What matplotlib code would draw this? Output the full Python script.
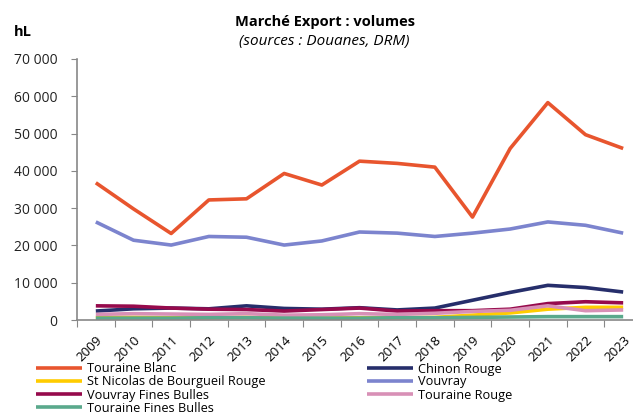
import matplotlib.pyplot as plt
from matplotlib.ticker import FuncFormatter, FixedLocator

plt.rcParams['font.family'] = ['Open Sans', 'DejaVu Sans']

years = [str(y) for y in range(2009, 2024)]

touraine_blanc = [36800, 29800, 23200, 32200, 32500, 39300, 36200, 42600, 42000, 41000, 27600, 46000, 58300, 49700, 46000]
chinon_rouge = [2400, 3000, 3200, 3000, 3800, 3100, 2900, 3300, 2700, 3200, 5300, 7400, 9300, 8700, 7500]
st_nicolas = [700, 700, 600, 600, 700, 500, 500, 600, 600, 700, 1300, 1900, 2900, 3400, 3400]
vouvray = [26300, 21400, 20100, 22400, 22200, 20100, 21200, 23600, 23300, 22400, 23300, 24400, 26300, 25400, 23300]
vouvray_fb = [3800, 3700, 3200, 2900, 2800, 2400, 2800, 3200, 2400, 2500, 2500, 2900, 4400, 4900, 4600]
touraine_rouge = [1500, 1700, 1600, 1500, 1700, 1300, 1400, 1700, 1500, 1800, 2300, 2600, 3800, 2500, 2700]
touraine_fb = [500, 500, 500, 600, 600, 500, 500, 500, 600, 600, 700, 800, 900, 900, 900]

series = [
    ("Touraine Blanc", touraine_blanc, "#E8552E"),
    ("Chinon Rouge", chinon_rouge, "#262E6B"),
    ("St Nicolas de Bourgueil Rouge", st_nicolas, "#FFCC00"),
    ("Vouvray", vouvray, "#7C84CE"),
    ("Vouvray Fines Bulles", vouvray_fb, "#960A4C"),
    ("Touraine Rouge", touraine_rouge, "#D890B6"),
    ("Touraine Fines Bulles", touraine_fb, "#5AA98C"),
]

fig = plt.figure(figsize=(6.33, 4.16), dpi=100)
ax = fig.add_axes([77 / 633, 1 - 320 / 416, 565 / 633, (320 - 59) / 416])

x = list(range(len(years)))
handles = {}
for name, vals, col in series:
    h, = ax.plot(x, vals, color=col, lw=2.6, solid_capstyle='butt', label=name)
    handles[name] = h

ax.set_xlim(-0.5, len(years) - 0.5)
ax.set_ylim(0, 70000)
ax.yaxis.set_major_locator(FixedLocator(range(0, 70001, 10000)))
ax.yaxis.set_major_formatter(FuncFormatter(lambda v, p: f"{int(v):,}".replace(",", " ")))
ax.tick_params(axis='y', labelsize=10, length=4, color='#888888', labelcolor='#222222', pad=10)

# ticks between categories, labels centred on each year
ax.set_xticks([i - 0.5 for i in range(len(years) + 1)], minor=False)
ax.set_xticklabels([])
ax.set_xticks(x, minor=True)
ax.set_xticklabels(years, minor=True, rotation=45, ha='right', rotation_mode='anchor', fontsize=9.5)
ax.tick_params(axis='x', which='major', length=5, color='#888888')
ax.tick_params(axis='x', which='minor', length=0, pad=10)

for s in ['top', 'right']:
    ax.spines[s].set_visible(False)
for s in ['left', 'bottom']:
    ax.spines[s].set_color('#888888')
    ax.spines[s].set_linewidth(1.2)

fig.text(0.513, 1 - 22 / 416, "Marché Export : volumes", ha='center', va='center', fontsize=10.5, fontweight='bold')
fig.text(0.513, 1 - 42 / 416, "(sources : Douanes, DRM)", ha='center', va='center', fontsize=11, style='italic')
fig.text(14 / 633, 1 - 32 / 416, "hL", ha='left', va='center', fontsize=10.5, fontweight='bold')

order = ["Touraine Blanc", "St Nicolas de Bourgueil Rouge", "Vouvray Fines Bulles", "Touraine Fines Bulles",
         "Chinon Rouge", "Vouvray", "Touraine Rouge"]
fig.legend([handles[n] for n in order], order, ncol=2, loc='upper left',
           bbox_to_anchor=(24 / 633, 1 - 351 / 416), frameon=False, fontsize=9.2,
           handlelength=3.65, handletextpad=0.4, columnspacing=7.9, labelspacing=0.0)

fig.savefig("out.png", dpi=100)
